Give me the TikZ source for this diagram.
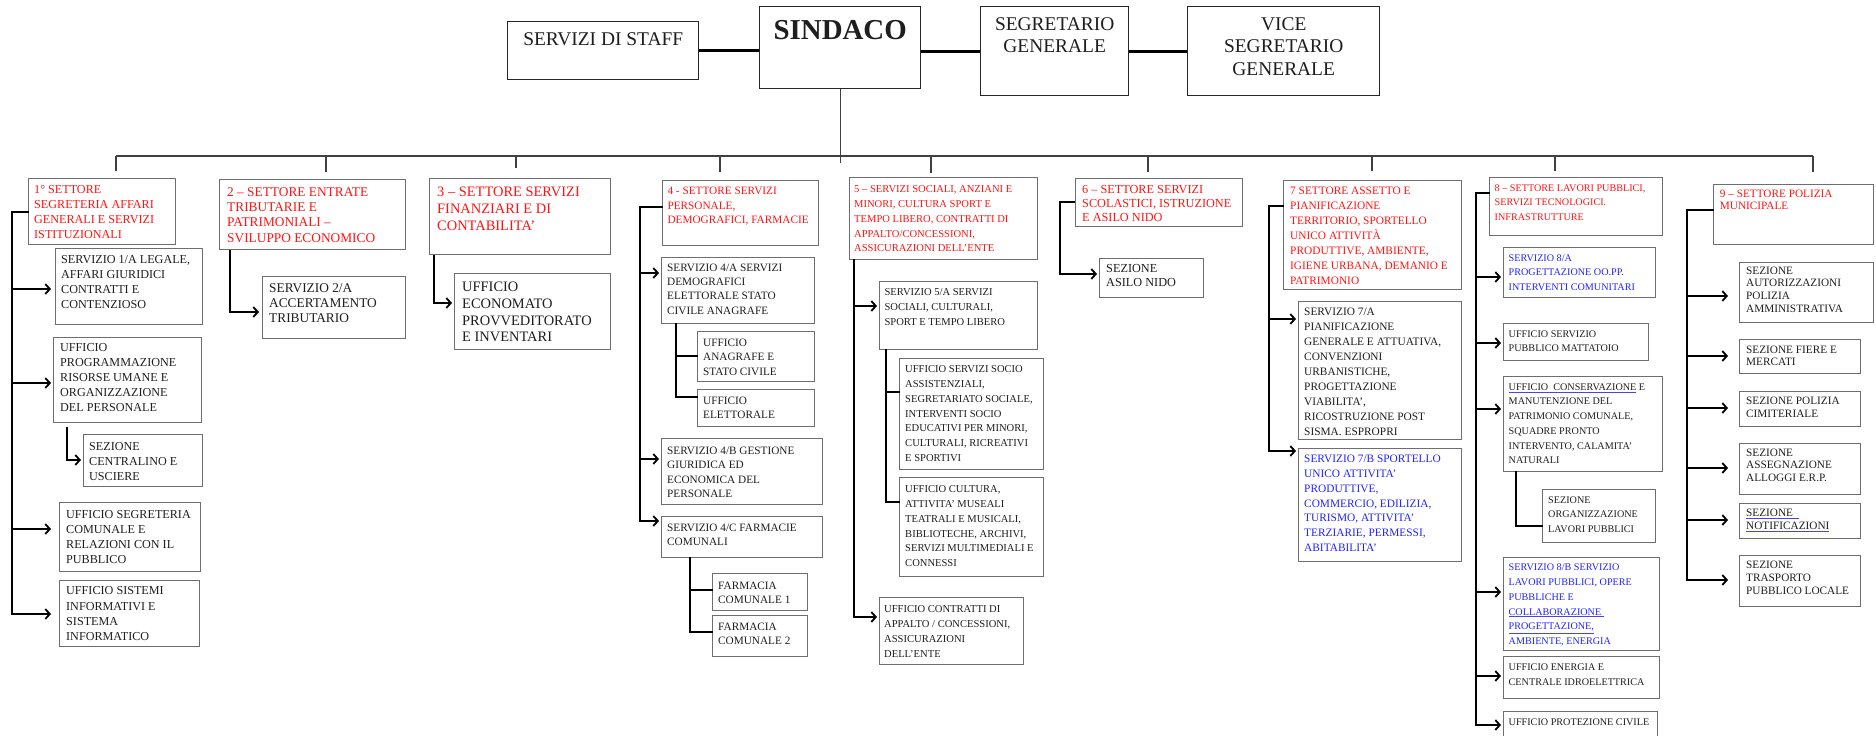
\documentclass[tikz,border=0pt]{standalone}
\usepackage{fontspec}
\setmainfont{Liberation Serif}
\usetikzlibrary{arrows.meta}
\definecolor{tred}{RGB}{255,20,20}
\definecolor{tblue}{RGB}{35,35,255}
\definecolor{tblk}{RGB}{30,30,30}
\definecolor{bord}{RGB}{110,110,110}
\definecolor{ulb}{RGB}{70,70,230}
\newcommand\fsA{\fontsize{12.2}{15.2}\selectfont}
\newcommand\fsB{\fontsize{13.4}{15.4}\selectfont}
\newcommand\fsC{\fontsize{14.5}{16.7}\selectfont}
\newcommand\fsD{\fontsize{11.3}{14.5}\selectfont}
\newcommand\fsE{\fontsize{10.6}{15}\selectfont}
\newcommand\fsF{\fontsize{12.3}{14}\selectfont}
\newcommand\fsG{\fontsize{11.4}{15}\selectfont}
\newcommand\fsH{\fontsize{10.2}{14.8}\selectfont}
\newcommand\fsI{\fontsize{11.3}{12.8}\selectfont}
\newcommand\fsT{\fontsize{19.5}{22.7}\selectfont}
\newcommand\fsS{\fontsize{29}{34}\selectfont\bfseries}
\newcommand\ulc[2]{{\color{ulb}\underline{\color{#1}#2}}}
\tikzset{
 box/.style={draw=bord,line width=1.2bp,fill=white,inner sep=0pt},
 topbox/.style={draw=black!85,line width=1.4bp,fill=white,inner sep=0pt},
 txt/.style={inner sep=0pt,align=left},
 ttxt/.style={inner sep=0pt,align=center,text=tblk},
 conn/.style={draw=black,line width=1.8bp,line cap=rect},
 arr/.style={draw=black,line width=1.8bp,-{Straight Barb[length=4.5bp,width=10bp]}},
 bus/.style={draw=black!75,line width=1.1bp},
 topc/.style={draw=black,line width=3bp},
 tcol/.store in=\tcol, fnt/.store in=\fnt, bo/.store in=\bo, ix/.store in=\ix,
 tcol=tblk, fnt=\fsA, bo=15, ix=6}
\newcommand\bx[7][]{%
 \begin{scope}[#1]
 \node[box,minimum width=#5bp-#3bp,minimum height=#6bp-#4bp,anchor=north west] (#2) at (#3,#4) {};
 \node[txt,anchor=north west,text=\tcol,font=\fnt] (#2-t) at ([shift={(\ix,\bo-11)}]#2.north west) {\rule{0pt}{11bp}#7};
 \end{scope}}
\newcommand\arw[4]{%
 \coordinate (#3-in) at ([yshift=-#4bp]#3.north west);
 \draw[arr] (#1 |- #3-in) -- (#2 |- #3-in);}
\begin{document}
\begin{tikzpicture}[x=1bp,y=-1bp]
\useasboundingbox (0,0) rectangle (1876,736);
\clip (0,0) rectangle (1876,736);
\fill[white] (0,0) rectangle (1876,736);

% ---------- top row ----------
\node[topbox,minimum width=191bp,minimum height=58bp,anchor=north west] (staff) at (507,21) {};
\node[topbox,minimum width=161bp,minimum height=82bp,anchor=north west] (sindaco) at (759,6) {};
\node[topbox,minimum width=148bp,minimum height=89bp,anchor=north west] (segr) at (980,6) {};
\node[topbox,minimum width=192bp,minimum height=89bp,anchor=north west] (vice) at (1187,6) {};
\node[ttxt,font=\fsT,anchor=north] (staff-t) at ([yshift=-10bp]staff.north) {\rule{0pt}{14bp}SERVIZI DI STAFF};
\node[ttxt,font=\fsS,anchor=north] (sindaco-t) at ([yshift=-13bp]sindaco.north) {\rule{0pt}{20bp}SINDACO};
\node[ttxt,font=\fsT,anchor=north] (segr-t) at ([yshift=-10bp]segr.north) {\rule{0pt}{14bp}SEGRETARIO\\GENERALE};
\node[ttxt,font=\fsT,anchor=north] (vice-t) at ([yshift=-10bp]vice.north) {\rule{0pt}{14bp}VICE\\SEGRETARIO\\GENERALE};
\draw[topc] (staff.east) -- (staff.east -| sindaco.west);
\draw[topc] (sindaco.east |- segr.west) -- (segr.west);
\draw[topc] (segr.east) -- (vice.west);

% ---------- settore 1 ----------
\begin{scope}[fnt=\fsA]
\bx[tcol=tred]{s1}{28}{178}{175}{244}{1° SETTORE\\SEGRETERIA AFFARI\\GENERALI E SERVIZI\\ISTITUZIONALI}
\bx{x1a}{55}{248}{202}{324}{SERVIZIO 1/A LEGALE,\\AFFARI GIURIDICI\\CONTRATTI E\\CONTENZIOSO}
\bx[bo=14,ix=7]{x1p}{53}{337}{201}{422}{UFFICIO\\PROGRAMMAZIONE\\RISORSE UMANE E\\ORGANIZZAZIONE\\DEL PERSONALE}
\bx[bo=16]{x1c}{83}{434}{202}{486}{SEZIONE\\CENTRALINO E\\USCIERE}
\bx[bo=16,ix=7]{x1s}{59}{502}{200}{571}{UFFICIO SEGRETERIA\\COMUNALE E\\RELAZIONI CON IL\\PUBBLICO}
\bx[bo=14.7,ix=7]{x1i}{59}{580}{199}{646}{UFFICIO SISTEMI\\INFORMATIVI E\\SISTEMA\\INFORMATICO}
\end{scope}

% ---------- settore 2 ----------
\begin{scope}[fnt=\fsB]
\bx[tcol=tred,bo=17,ix=8]{s2}{219}{179}{405}{249}{2 – SETTORE ENTRATE\\TRIBUTARIE E\\PATRIMONIALI –\\SVILUPPO ECONOMICO}
\bx[bo=16,ix=7]{x2a}{262}{276}{405}{338}{SERVIZIO 2/A\\ACCERTAMENTO\\TRIBUTARIO}
\end{scope}

% ---------- settore 3 ----------
\begin{scope}[fnt=\fsC,bo=18.6,ix=8]
\bx[tcol=tred]{s3}{429}{178}{610}{254}{3 – SETTORE SERVIZI\\FINANZIARI E DI\\CONTABILITA’}
\bx{x3a}{454}{273}{610}{349}{UFFICIO\\ECONOMATO\\PROVVEDITORATO\\E INVENTARI}
\end{scope}

% ---------- settore 4 ----------
\begin{scope}[fnt=\fsD]
\bx[tcol=tred,bo=14.5,ix=5.3]{s4}{662}{180}{818}{245}{4 - SETTORE SERVIZI\\PERSONALE,\\DEMOGRAFICI, FARMACIE}
\bx[bo=13.8]{x4a}{661}{257}{814}{323}{SERVIZIO 4/A SERVIZI\\DEMOGRAFICI\\ELETTORALE STATO\\CIVILE ANAGRAFE}
\bx{x4g}{697}{331}{814}{381}{UFFICIO\\ANAGRAFE E\\STATO CIVILE}
\bx{x4e}{697}{389}{814}{426}{UFFICIO\\ELETTORALE}
\bx[bo=16]{x4b}{661}{438}{822}{504}{SERVIZIO 4/B GESTIONE\\GIURIDICA ED\\ECONOMICA DEL\\PERSONALE}
\bx{x4c}{661}{516}{822}{557}{SERVIZIO 4/C FARMACIE\\COMUNALI}
\bx[bo=16]{x4f}{712}{573}{807}{610}{FARMACIA\\COMUNALE 1}
\bx{x4h}{712}{615}{807}{656}{FARMACIA\\COMUNALE 2}
\end{scope}

% ---------- settore 5 ----------
\begin{scope}[fnt=\fsE,ix=5]
\bx[tcol=tred]{s5}{849}{177}{1037}{259}{5 – SERVIZI SOCIALI, ANZIANI E\\MINORI, CULTURA SPORT E\\TEMPO LIBERO, CONTRATTI DI\\APPALTO/CONCESSIONI,\\ASSICURAZIONI DELL’ENTE}
\bx[bo=14.3,ix=5.3]{x5a}{879}{281}{1037}{349}{SERVIZIO 5/A SERVIZI\\SOCIALI, CULTURALI,\\SPORT E TEMPO LIBERO}
\bx[bo=14,ix=6]{x5s}{899}{358}{1043}{469}{UFFICIO SERVIZI SOCIO\\ASSISTENZIALI,\\SEGRETARIATO SOCIALE,\\INTERVENTI SOCIO\\EDUCATIVI PER MINORI,\\CULTURALI, RICREATIVI\\E SPORTIVI}
\bx[ix=6]{x5c}{899}{477}{1043}{576}{UFFICIO CULTURA,\\ATTIVITA’ MUSEALI\\TEATRALI E MUSICALI,\\BIBLIOTECHE, ARCHIVI,\\SERVIZI MULTIMEDIALI E\\CONNESSI}
\bx{x5k}{879}{597}{1023}{664}{UFFICIO CONTRATTI DI\\APPALTO / CONCESSIONI,\\ASSICURAZIONI\\DELL’ENTE}
\end{scope}

% ---------- settore 6 ----------
\begin{scope}[fnt=\fsF,ix=7]
\bx[tcol=tred]{s6}{1075}{178}{1242}{226}{6 – SETTORE SERVIZI\\SCOLASTICI, ISTRUZIONE\\E ASILO NIDO}
\bx[bo=14.6]{x6a}{1099}{258}{1203}{297}{SEZIONE\\ASILO NIDO}
\end{scope}

% ---------- settore 7 ----------
\begin{scope}[fnt=\fsG,ix=6]
\bx[tcol=tred,bo=14.2,ix=7]{s7}{1283}{180}{1461}{289}{7 SETTORE ASSETTO E\\PIANIFICAZIONE\\TERRITORIO, SPORTELLO\\UNICO ATTIVITÀ\\PRODUTTIVE, AMBIENTE,\\IGIENE URBANA, DEMANIO E\\PATRIMONIO}
\bx[bo=14.7]{x7a}{1298}{301}{1461}{439}{SERVIZIO 7/A\\PIANIFICAZIONE\\GENERALE E ATTUATIVA,\\CONVENZIONI\\URBANISTICHE,\\PROGETTAZIONE\\VIABILITA’,\\RICOSTRUZIONE POST\\SISMA. ESPROPRI}
\bx[tcol=tblue,bo=14]{x7b}{1298}{448}{1461}{561}{SERVIZIO 7/B SPORTELLO\\UNICO ATTIVITA’\\PRODUTTIVE,\\COMMERCIO, EDILIZIA,\\TURISMO, ATTIVITA’\\TERZIARIE, PERMESSI,\\ABITABILITA’}
\end{scope}

% ---------- settore 8 ----------
\begin{scope}[fnt=\fsH,bo=14,ix=5.5]
\bx[tcol=tred]{s8}{1489}{177}{1662}{235}{8 – SETTORE LAVORI PUBBLICI,\\SERVIZI TECNOLOGICI.\\INFRASTRUTTURE}
\bx[tcol=tblue]{x8a}{1503}{247}{1655}{297}{SERVIZIO 8/A\\PROGETTAZIONE OO.PP.\\INTERVENTI COMUNITARI}
\bx{x8m}{1503}{323}{1648}{360}{UFFICIO SERVIZIO\\PUBBLICO MATTATOIO}
\bx{x8c}{1503}{376}{1662}{471}{\ulc{tblk}{UFFICIO\ \ CONSERVAZIONE} E\\MANUTENZIONE DEL\\PATRIMONIO COMUNALE,\\SQUADRE PRONTO\\INTERVENTO, CALAMITA’\\NATURALI}
\bx[ix=6]{x8o}{1542}{489}{1655}{542}{SEZIONE\\ORGANIZZAZIONE\\LAVORI PUBBLICI}
\bx[tcol=tblue,bo=13.7]{x8b}{1503}{557}{1659}{650}{SERVIZIO 8/B SERVIZIO\\LAVORI PUBBLICI, OPERE\\PUBBLICHE E\\\ulc{tblue}{COLLABORAZIONE\ }\\\ulc{tblue}{PROGETTAZIONE,}\\AMBIENTE, ENERGIA}
\bx[bo=14.7]{x8e}{1503}{656}{1659}{698}{UFFICIO ENERGIA E\\CENTRALE IDROELETTRICA}
\bx[bo=14.3]{x8p}{1503}{711}{1657}{745}{UFFICIO PROTEZIONE CIVILE}
\end{scope}

% ---------- settore 9 ----------
\begin{scope}[fnt=\fsI,ix=7]
\bx[tcol=tred,bo=13,ix=6.7]{s9}{1713}{184}{1873}{244}{9 – SETTORE POLIZIA\\MUNICIPALE}
\bx[bo=12]{x9a}{1739}{262}{1873}{322}{SEZIONE\\AUTORIZZAZIONI\\POLIZIA\\AMMINISTRATIVA}
\bx[bo=14]{x9f}{1739}{339}{1860}{373}{SEZIONE FIERE E\\MERCATI}
\bx[bo=13.7]{x9c}{1739}{391}{1860}{426}{SEZIONE POLIZIA\\CIMITERIALE}
\bx[bo=13]{x9g}{1739}{443}{1860}{494}{SEZIONE\\ASSEGNAZIONE\\ALLOGGI E.R.P.}
\bx[bo=13.7]{x9n}{1739}{503}{1860}{538}{\ulc{tblk}{SEZIONE\ \ }\\\ulc{tblk}{NOTIFICAZIONI}}
\bx[bo=13.3]{x9t}{1739}{555}{1860}{606}{SEZIONE\\TRASPORTO\\PUBBLICO LOCALE}
\end{scope}

% ---------- bus from the Sindaco ----------
\coordinate (b1) at (116,156); \coordinate (b2) at (326,156); \coordinate (b3) at (516,156);
\coordinate (b4) at (720,156); \coordinate (b5) at (931,156); \coordinate (b6) at (1148,156);
\coordinate (b7) at (1372,156); \coordinate (b8) at (1555,156); \coordinate (b9) at (1813,156);
\draw[bus] (sindaco.south) -- ++(0,74);
\draw[bus] (b1) -- (b9);
\draw[bus,shorten >=7bp] (b1) -- (b1 |- s1.north);
\draw[bus,shorten >=7bp] (b2) -- (b2 |- s2.north);
\draw[bus,shorten >=10bp] (b3) -- (b3 |- s3.north);
\draw[bus,shorten >=8bp] (b4) -- (b4 |- s4.north);
\draw[bus,shorten >=4bp] (b5) -- (b5 |- s5.north);
\draw[bus,shorten >=6bp] (b6) -- (b6 |- s6.north);
\draw[bus,shorten >=9bp] (b7) -- (b7 |- s7.north);
\draw[bus,shorten >=6bp] (b8) -- (b8 |- s8.north);
\draw[bus,shorten >=12bp] (b9) -- (b9 |- s9.north);

% ---------- connectors settore 1 ----------
\coordinate (t1) at (12,0); \coordinate (k1) at (51,0);
\arw{t1}{k1}{x1a}{41}
\arw{t1}{k1}{x1p}{46}
\arw{t1}{k1}{x1s}{27}
\arw{t1}{k1}{x1i}{34}
\coordinate (s1-o) at ([yshift=-34bp]s1.north west);
\draw[conn] (s1-o) -| (t1 |- x1i-in);
\coordinate (u1p) at ([shift={(14,4)}]x1p.south west);
\coordinate (x1c-in) at ([yshift=-26bp]x1c.north west);
\draw[arr,shorten >=2bp] (u1p) |- (x1c-in);

% ---------- settore 2 ----------
\coordinate (t2) at (230,0);
\coordinate (x2a-in) at ([yshift=-36bp]x2a.north west);
\draw[arr,shorten >=3bp] (t2 |- s2.south) |- (x2a-in);

% ---------- settore 3 ----------
\coordinate (t3) at (434,0);
\coordinate (x3a-in) at ([yshift=-30bp]x3a.north west);
\draw[arr,shorten >=2bp] (t3 |- s3.south) |- (x3a-in);

% ---------- settore 4 ----------
\coordinate (t4) at (640,0); \coordinate (k4) at (659,0);
\arw{t4}{k4}{x4a}{16}
\arw{t4}{k4}{x4b}{21}
\arw{t4}{k4}{x4c}{5}
\coordinate (s4-o) at ([yshift=-27bp]s4.north west);
\draw[conn] (s4-o) -| (t4 |- x4c-in);
\coordinate (u4a) at ([xshift=15bp]x4a.south west);
\coordinate (x4g-in) at ([yshift=-25bp]x4g.north west);
\coordinate (x4e-in) at ([yshift=-8bp]x4e.north west);
\draw[conn] (u4a) |- (x4e-in);
\draw[conn] (u4a |- x4g-in) -- (x4g-in);
\coordinate (u4c) at ([xshift=29bp]x4c.south west);
\coordinate (x4f-in) at ([yshift=-17bp]x4f.north west);
\coordinate (x4h-in) at ([yshift=-17bp]x4h.north west);
\draw[conn] (u4c) |- (x4h-in);
\draw[conn] (u4c |- x4f-in) -- (x4f-in);

% ---------- settore 5 ----------
\coordinate (t5) at (854,0); \coordinate (k5) at (877,0);
\arw{t5}{k5}{x5a}{25}
\arw{t5}{k5}{x5k}{20}
\draw[conn] (t5 |- s5.south) -- (t5 |- x5k-in);
\coordinate (u5a) at ([xshift=7bp]x5a.south west);
\coordinate (x5s-in) at ([yshift=-34bp]x5s.north west);
\coordinate (x5c-in) at ([yshift=-25bp]x5c.north west);
\draw[conn] (u5a) |- (x5c-in);
\draw[conn] (u5a |- x5s-in) -- (x5s-in);

% ---------- settore 6 ----------
\coordinate (t6) at (1060,0);
\coordinate (s6-o) at ([yshift=-24bp]s6.north west);
\coordinate (x6a-in) at ([yshift=-16bp]x6a.north west);
\draw[arr,shorten >=2bp] (s6-o) -| (t6 |- x6a-in) -- (x6a-in);

% ---------- settore 7 ----------
\coordinate (t7) at (1269,0); \coordinate (k7) at (1296,0);
\arw{t7}{k7}{x7a}{18}
\arw{t7}{k7}{x7b}{3}
\coordinate (s7-o) at ([yshift=-26bp]s7.north west);
\draw[conn] (s7-o) -| (t7 |- x7b-in);

% ---------- settore 8 ----------
\coordinate (t8) at (1476,0); \coordinate (k8) at (1501,0);
\arw{t8}{k8}{x8a}{30}
\arw{t8}{k8}{x8m}{20}
\arw{t8}{k8}{x8c}{33}
\arw{t8}{k8}{x8b}{35}
\arw{t8}{k8}{x8e}{20}
\arw{t8}{k8}{x8p}{14}
\coordinate (s8-o) at ([yshift=-16bp]s8.north west);
\draw[conn] (s8-o) -| (t8 |- x8p-in);
\coordinate (u8c) at ([xshift=13bp]x8c.south west);
\coordinate (x8o-in) at ([yshift=-37bp]x8o.north west);
\draw[conn] (u8c) |- (x8o-in);

% ---------- settore 9 ----------
\coordinate (t9) at (1687,0); \coordinate (k9) at (1728,0);
\arw{t9}{k9}{x9a}{34}
\arw{t9}{k9}{x9f}{17}
\arw{t9}{k9}{x9c}{17}
\arw{t9}{k9}{x9g}{25}
\arw{t9}{k9}{x9n}{17}
\arw{t9}{k9}{x9t}{25}
\coordinate (s9-o) at ([yshift=-26bp]s9.north west);
\draw[conn] (s9-o) -| (t9 |- x9t-in);
\end{tikzpicture}
\end{document}
